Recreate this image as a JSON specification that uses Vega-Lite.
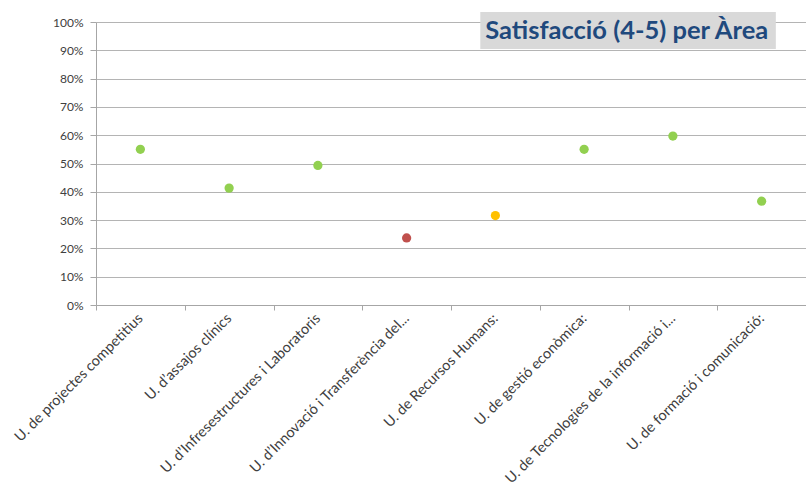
{
  "$schema": "https://vega.github.io/schema/vega-lite/v6.json",
  "width": 710,
  "height": 283,
  "autosize": {"type": "none"},
  "padding": {"left": 96, "top": 22, "right": 0, "bottom": 182},
  "background": "white",
  "config": {
    "view": {"stroke": null},
    "font": "Lato",
    "axisY": {
      "format": ".0%",
      "values": [0, 0.1, 0.2, 0.3, 0.4, 0.5, 0.6, 0.7, 0.8, 0.9, 1],
      "labelOverlap": false,
      "labelFontSize": 12,
      "labelColor": "#404040",
      "labelPadding": 7,
      "tickColor": "#A6A6A6",
      "tickSize": 6,
      "domainColor": "#A6A6A6",
      "gridColor": "#B4B4B4",
      "grid": true,
      "title": null
    }
  },
  "data": {
    "values": [
      {"unitat": "U. de projectes competitius", "satisfaccio": 0.55, "nivell": "alt"},
      {"unitat": "U. d’assajos clínics", "satisfaccio": 0.413, "nivell": "alt"},
      {"unitat": "U. d’Infresestructures i Laboratoris", "satisfaccio": 0.493, "nivell": "alt"},
      {"unitat": "U. d’Innovació i Transferència del...", "satisfaccio": 0.237, "nivell": "baix"},
      {"unitat": "U. de Recursos Humans:", "satisfaccio": 0.316, "nivell": "mig"},
      {"unitat": "U. de gestió econòmica:", "satisfaccio": 0.55, "nivell": "alt"},
      {"unitat": "U. de Tecnologies de la informació i...", "satisfaccio": 0.597, "nivell": "alt"},
      {"unitat": "U. de formació i comunicació:", "satisfaccio": 0.367, "nivell": "alt"}
    ]
  },
  "layer": [
    {
      "mark": {"type": "point", "filled": true, "opacity": 1, "size": 85},
      "encoding": {
        "x": {
          "field": "unitat",
          "type": "nominal",
          "sort": null,
          "title": null,
          "scale": {"paddingInner": 0, "paddingOuter": 0},
          "axis": {
            "labelAngle": -45,
            "labelAlign": "right",
            "labelBaseline": "middle",
            "labelFontSize": 14.5,
            "labelColor": "#404040",
            "labelPadding": 6,
            "labelLimit": 400,
            "tickBand": "extent",
            "tickColor": "#A6A6A6",
            "tickSize": 5,
            "domainColor": "#A6A6A6",
            "grid": false
          }
        },
        "y": {
          "field": "satisfaccio",
          "type": "quantitative",
          "title": null,
          "scale": {"domain": [0, 1]}
        },
        "color": {
          "field": "nivell",
          "type": "nominal",
          "legend": null,
          "scale": {"domain": ["alt", "mig", "baix"], "range": ["#92D050", "#FFC000", "#C0504D"]}
        }
      }
    },
    {
      "data": {"values": [{"titol": "Satisfacció (4-5) per Àrea"}]},
      "layer": [
        {
          "mark": {"type": "rect", "color": "#D9D9D9"},
          "encoding": {
            "x": {"datum": 4.33, "type": "quantitative", "scale": {"domain": [0, 8]}, "axis": null},
            "x2": {"datum": 7.66},
            "y": {"datum": 0.905, "type": "quantitative"},
            "y2": {"datum": 1.035}
          }
        },
        {
          "mark": {"type": "text", "font": "Lato", "fontSize": 25.5, "fontWeight": "bold", "color": "#1F497D", "align": "center", "baseline": "middle"},
          "encoding": {
            "x": {"datum": 5.98, "type": "quantitative"},
            "y": {"datum": 0.969, "type": "quantitative"},
            "text": {"field": "titol"}
          }
        }
      ]
    }
  ],
  "resolve": {"scale": {"x": "independent"}}
}
